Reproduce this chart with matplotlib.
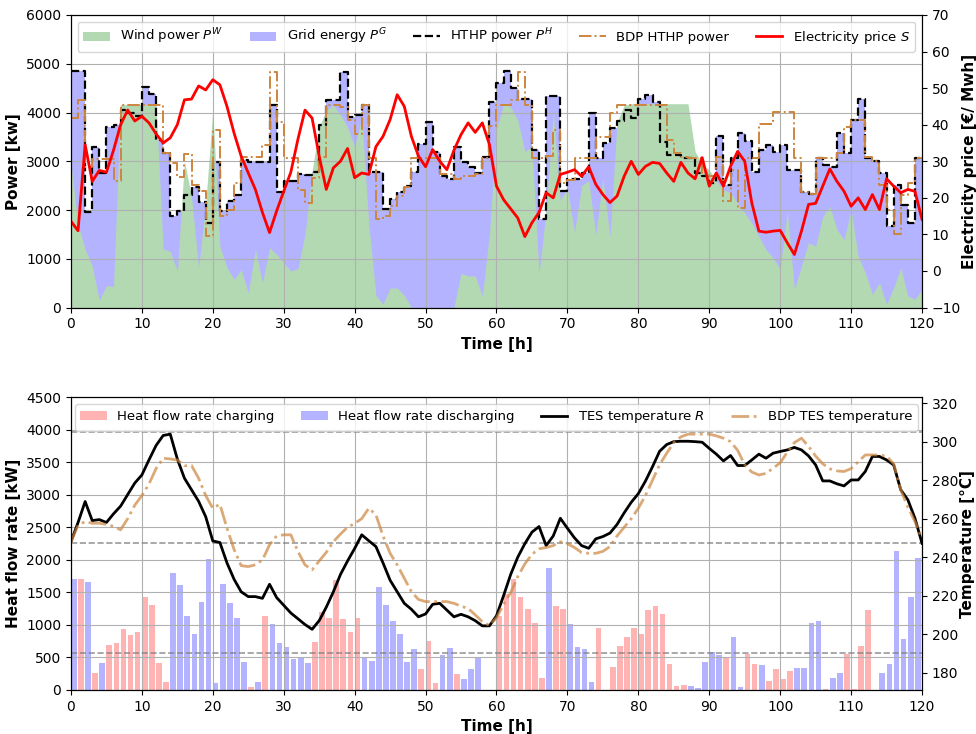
import numpy as np
import matplotlib
matplotlib.use("Agg")
import matplotlib.pyplot as plt

# ---- top plot data (hourly, 0..120 h) ----
hthp_power = [4850, 4850, 1950, 3300, 2750, 3700, 3750, 4050, 3980, 3920,
              4520, 4370, 3430, 3160, 1870, 1990, 2310, 2480, 2160, 1740,
              2990, 1970, 2180, 2310, 3030, 2990, 2990, 2990, 4160, 2360,
              2600, 2600, 2740, 2710, 2775, 3740, 4250, 4250, 4840, 3900,
              3950, 4160, 2770, 2770, 2020, 2230, 2360, 2490, 2770, 3360,
              3800, 3200, 2705, 2640, 3290, 2980, 2880, 2750, 3080, 4210,
              4600, 4850, 4510, 4285, 4285, 3230, 1815, 4330, 4330, 2400,
              2640, 2640, 2750, 4000, 3070, 3370, 3680, 3830, 4050, 3880,
              4285, 4350, 4220, 3400, 3130, 3130, 3060, 3060, 2755, 2700,
              2550, 3520, 2520, 3060, 3585, 3420, 2790, 3230, 3330, 3200,
              3330, 2820, 2820, 2360, 2330, 3075, 2925, 2890, 3570, 3160,
              3840, 4285, 3060, 3000, 2755, 1665, 2520, 2110, 1735, 3060]

bdp_hthp_power = [3880, 4250, 2890, 3050, 3050, 3050, 2590, 4160, 4160, 4160,
                  4160, 4160, 4160, 3160, 2960, 2680, 3150, 2520, 2380, 1460,
                  3640, 1870, 2000, 2550, 3095, 3095, 3095, 3330, 4840, 3810,
                  3060, 3060, 2415, 2140, 2650, 3095, 4150, 4150, 4115, 3840,
                  3550, 4160, 3060, 1815, 1870, 2075, 2280, 2480, 3070, 3070,
                  3070, 3070, 2740, 2740, 2640, 2705, 2705, 2740, 3070, 3730,
                  4160, 4160, 4250, 4840, 4160, 3060, 3060, 3100, 3640, 2550,
                  2620, 3060, 3060, 3060, 3500, 3500, 3980, 4160, 4160, 4160,
                  4160, 4160, 4160, 4160, 3435, 3160, 3095, 3060, 3060, 2755,
                  2700, 3095, 2177, 2823, 2040, 3060, 3060, 3760, 3760, 4020,
                  4020, 4020, 3060, 2360, 2330, 3060, 3060, 3060, 3160, 3710,
                  3840, 3840, 3095, 3000, 2517, 2000, 1500, 2300, 2550, 3060]

wind_power = [2950, 1700, 1200, 850, 150, 450, 430, 4160, 4160, 4160,
              4160, 4160, 4160, 1200, 1150, 750, 3000, 2280, 815, 2140,
              4050, 1260, 816, 580, 780, 300, 1190, 510, 1225, 1090,
              920, 750, 800, 1500, 2800, 3700, 4050, 4150, 3950, 3700,
              3300, 3900, 1700, 250, 70, 400, 400, 250, 0, 0,
              0, 0, 0, 0, 0, 700, 650, 650, 240, 1500,
              3650, 4180, 4115, 3840, 3200, 3300, 700, 2000, 4000, 2200,
              2450, 1550, 2500, 2600, 1500, 2650, 1450, 3800, 4150, 4180,
              4180, 4180, 4180, 4180, 4180, 4180, 4180, 4180, 3200, 2950,
              2820, 2600, 2415, 2350, 2140, 1940, 1735, 1460, 1190, 1020,
              780, 1970, 375, 850, 1330, 1260, 1870, 2075, 1600, 1395,
              2000, 1050, 714, 272, 510, 68, 408, 816, 238, 170, 374]

price = [13.6, 11, 34.5, 24.5, 27.5, 27, 33, 40, 44, 41,
         42.3, 40.5, 37.5, 35, 36.4, 40, 46.8, 47, 50.6, 49.5,
         52.3, 50.9, 45, 37.7, 31.4, 26.8, 22.3, 16, 10.5, 16.4,
         21.8, 27, 36, 44, 41.8, 31.4, 22.3, 28.2, 30, 33.5,
         25.5, 26.8, 26.4, 34, 36.8, 41.4, 48.2, 45, 36.8, 31.4,
         28.5, 33.2, 30, 27.7, 33, 37.3, 40.5, 37.9, 40.5, 34.6,
         23.2, 19.5, 17, 14.5, 9.4, 13.2, 16, 21.4, 20, 26.4,
         27, 27.7, 25.9, 28.5, 23.7, 20.9, 18.7, 20.5, 25.9, 30,
         26.4, 28.6, 29.7, 29.4, 26.8, 24.5, 29.7, 26.8, 25.2, 31,
         23.2, 26.8, 23.2, 28.6, 32.7, 30, 18.6, 10.9, 10.6, 10.9,
         11.1, 7.7, 4.5, 10.9, 18.2, 18.5, 23.2, 27.9, 24.5, 21.8,
         17.7, 20, 16.8, 20.9, 16.8, 25.2, 23.2, 21.4, 22.3, 21.8, 14.1]

# ---- bottom plot data ----
heat_charging = [0, 1705, 0, 267, 0, 693, 720, 940, 847, 888,
                 1428, 1310, 410, 128, 0, 0, 0, 0, 0, 0,
                 0, 0, 0, 0, 0, 41, 0, 1130, 0, 0,
                 0, 0, 0, 0, 735, 1197, 1114, 1695, 1089, 889,
                 1114, 0, 0, 0, 0, 0, 0, 0, 0, 324,
                 760, 113, 0, 0, 241, 0, 0, 0, 0, 0,
                 1145, 1479, 1705, 1423, 1248, 1037, 190, 0, 1284, 1243,
                 0, 0, 0, 0, 960, 0, 360, 678, 817, 960,
                 863, 1233, 1294, 1171, 400, 62, 77, 0, 0, 0,
                 0, 0, 488, 0, 0, 555, 395, 0, 144, 324,
                 164, 293, 0, 0, 0, 0, 15, 0, 0, 555,
                 15, 683, 1233, 0, 0, 0, 0, 0, 0, 0]

heat_discharging = [1705, 0, 1660, 0, 410, 0, 0, 0, 0, 0,
                    0, 0, 0, 0, 1800, 1618, 1130, 863, 1350, 2018,
                    113, 1633, 1335, 1104, 437, 0, 128, 0, 1012, 720,
                    657, 478, 488, 411, 0, 0, 0, 0, 0, 0,
                    0, 488, 452, 1582, 1300, 1063, 863, 437, 632, 0,
                    0, 0, 540, 642, 0, 164, 318, 488, 0, 0,
                    0, 0, 0, 0, 0, 0, 0, 1875, 0, 0,
                    1022, 657, 632, 128, 0, 0, 0, 0, 0, 0,
                    0, 0, 0, 0, 0, 0, 0, 55, 30, 437,
                    590, 540, 0, 812, 41, 0, 0, 385, 0, 0,
                    0, 0, 334, 344, 1037, 1063, 0, 190, 257, 0,
                    0, 0, 0, 0, 257, 400, 2142, 786, 1428, 2029]

tes_temp = [248, 258, 268.9, 259, 259.5, 258, 262.5, 266.5, 272.5, 278.5,
            282.7, 290.5, 298, 303.2, 303.9, 291, 281, 275, 269, 261,
            248.4, 247.6, 237, 228.5, 222, 219.5, 219.5, 218.6, 225.9, 219,
            215, 211, 208, 205, 202.5, 207, 214, 222, 231, 238,
            244.5, 251.6, 248.5, 245.5, 237, 228, 222, 216, 212.9, 209,
            210.5, 215.5, 216, 212.5, 209, 210.3, 209, 207, 204.3, 204.3,
            209.5, 220, 231, 240, 247, 253, 255.9, 246, 251, 260.2,
            255, 250, 246, 244.6, 249.5, 250.7, 252.5, 257, 263, 268.5,
            273, 279.5, 287, 295, 298.5, 300, 300.2, 300.2, 300, 299.7,
            296.5, 293.5, 290, 292.8, 287.6, 287.6, 290.5, 293.5, 291.4, 294,
            294.9, 295.7, 297, 295.7, 292.6, 287.9, 279.6, 279.6, 278.1, 277,
            280.1, 280.1, 284.5, 292.3, 292.3, 290.5, 287.9, 275, 269.8, 260.2, 247.2]

bdp_tes_temp = [248, 256.5, 258.5, 257.6, 257.6, 257, 256, 254.2, 260, 267,
                272, 278, 286, 291.4, 291, 290.5, 287.5, 287.6, 281, 272,
                265.4, 267.5, 255, 244, 235.6, 235.1, 236, 238.5, 246.4, 251,
                251.6, 251.6, 243, 236, 233.4, 238, 242.5, 248, 252, 255.5,
                257.5, 260, 265.4, 262, 251, 242, 236, 229, 222.1, 218,
                216.9, 216.9, 216.9, 216.9, 216, 214.5, 213.4, 210, 206.5, 204.5,
                208.5, 215.5, 221.5, 229.9, 236.5, 241.5, 244.3, 245, 246, 248,
                247, 245, 242.4, 242, 242, 243, 245.5, 251, 255.5, 260,
                265.4, 272, 280, 288, 294, 299.5, 302.5, 303.9, 303.9, 303.9,
                303.9, 303, 301.8, 300, 295.5, 288, 284.2, 282.7, 283.5, 286.2,
                289, 294.5, 299.5, 301.8, 297.5, 292.5, 288.5, 285.9, 284.8, 284.5,
                286, 289.5, 293.1, 293.1, 293, 292.5, 288.5, 275, 266, 258.5, 249.5]

temp_limits = [305, 247.5, 190]

t = np.arange(121)
hthp_ext = np.append(hthp_power, hthp_power[-1])
bdp_ext = np.append(bdp_hthp_power, bdp_hthp_power[-1])

green_c = "#b3d9b3"
blue_c = "#b3b3ff"
pink_c = "#ffb3b3"
peru_c = "#cd853f"

fig, (ax1, ax3) = plt.subplots(2, 1, figsize=(9.76, 7.34), dpi=100)
plt.subplots_adjust(left=0.0727, right=0.9447, top=0.9796, bottom=0.06, hspace=0.307)

# top plot
ax1.fill_between(t, 0, hthp_ext, step="post", color=blue_c, lw=0, label="Grid energy $P^G$")
ax1.fill_between(t, 0, wind_power, color=green_c, lw=0, label="Wind power $P^W$")
ax1.step(t, hthp_ext, where="post", color="k", ls="--", lw=1.6, label="HTHP power $P^H$")
ax1.step(t, bdp_ext, where="post", color=peru_c, ls="-.", lw=1.4, label="BDP HTHP power")
ax1.set_xlim(0, 120)
ax1.set_ylim(0, 6000)
ax1.set_xticks(range(0, 121, 10))
ax1.grid(True)
ax1.set_ylabel("Power [kw]", fontweight="bold", fontsize=11)
ax1.set_xlabel("Time [h]", fontweight="bold", fontsize=11)

ax2 = ax1.twinx()
ax2.plot(t, price, color="red", lw=2, label="Electricity price $S$")
ax2.set_ylim(-10, 70)
ax2.set_ylabel("Electricity price [€/ Mwh]", fontweight="bold", fontsize=11, labelpad=1)

h1, l1 = ax1.get_legend_handles_labels()
h2, l2 = ax2.get_legend_handles_labels()
order = [1, 0, 2, 3]
handles = [h1[i] for i in order] + h2
labels = [l1[i] for i in order] + l2
ax2.legend(handles, labels, loc="upper center", ncol=5, fontsize=9.5)

# bottom plot
hours = np.arange(120)
ax3.bar(hours, heat_charging, width=0.8, align="edge", color=pink_c, label="Heat flow rate charging")
ax3.bar(hours, heat_discharging, width=0.8, align="edge", color=blue_c, label="Heat flow rate discharging")
ax3.set_xlim(0, 120)
ax3.set_ylim(0, 4500)
ax3.set_xticks(range(0, 121, 10))
ax3.grid(True)
ax3.set_ylabel("Heat flow rate [kW]", fontweight="bold", fontsize=11)
ax3.set_xlabel("Time [h]", fontweight="bold", fontsize=11)

ax4 = ax3.twinx()
for lim in temp_limits:
    ax4.axhline(lim, color="gray", ls="--", lw=1.2, alpha=0.8)
ax4.plot(t, tes_temp, color="k", lw=2, label="TES temperature $R$")
ax4.plot(t, bdp_tes_temp, color=peru_c, ls="-.", lw=2, alpha=0.7, label="BDP TES temperature")
ax4.set_ylim(171, 323)
ax4.set_ylabel("Temperature [°C]", fontweight="bold", fontsize=11, labelpad=1)

h3, l3 = ax3.get_legend_handles_labels()
h4, l4 = ax4.get_legend_handles_labels()
ax4.legend(h3 + h4, l3 + l4, loc="upper center", ncol=4, fontsize=9.5)

plt.savefig("out.png", dpi=100)
